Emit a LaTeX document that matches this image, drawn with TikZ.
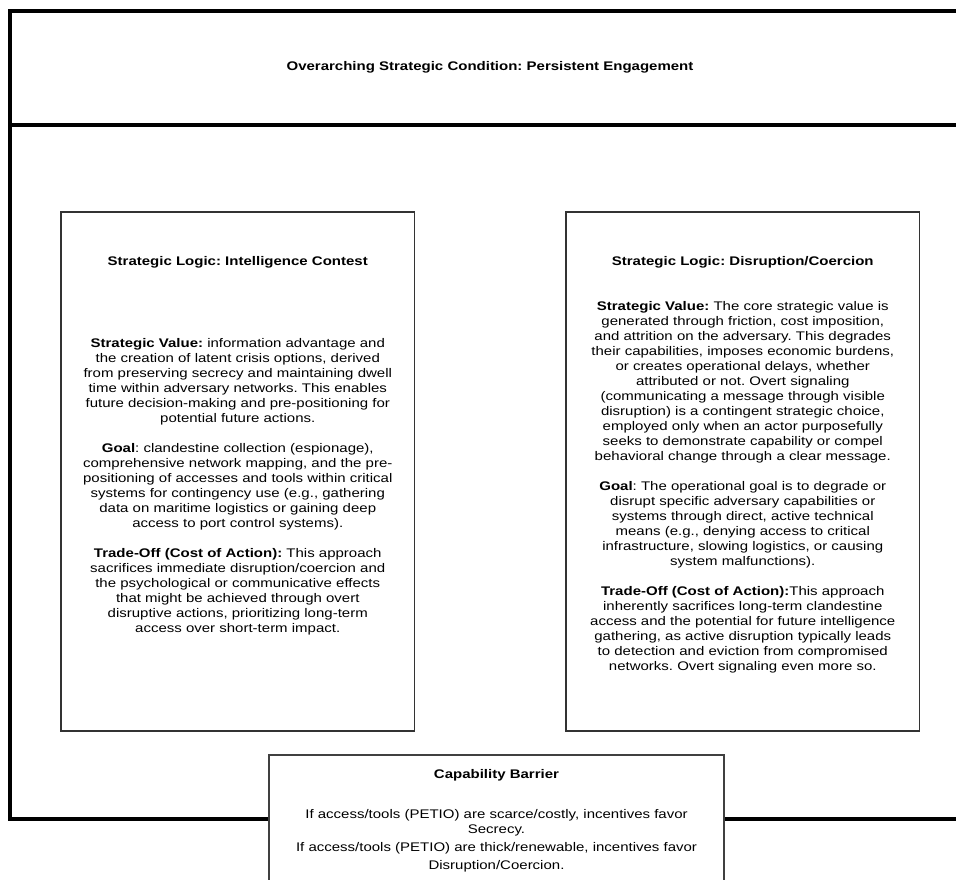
\documentclass[tikz,border=0pt]{standalone}
\usepackage{fontspec}
\setmainfont{Liberation Sans}[FakeStretch=1.2]
\frenchspacing
\begin{document}
\begin{tikzpicture}[x=1pt,y=-1pt,
  frame/.style={draw=black, line width=4pt, rectangle, inner sep=0pt, fill=white},
  panel/.style={draw=black!80, line width=1.3pt, rectangle, inner sep=0pt, fill=white,
    minimum width=353.5pt, minimum height=519pt},
  barrier/.style={draw=black!75, line width=1.3pt, rectangle, inner sep=0pt, fill=white,
    minimum width=455pt, minimum height=128pt},
  heading/.style={inner sep=0pt, font=\fontsize{12.5}{15}\selectfont\bfseries},
  bodytext/.style={inner sep=0pt, align=center, anchor=north, font=\fontsize{12.5}{15}\selectfont}]
\useasboundingbox (0,0) rectangle (956,879);
\clip (0,0) rectangle (956,879);

% outer frames: condition header and the container below it
\node[frame, minimum width=960pt, minimum height=695pt] (field) at (490,471.5) {};
\node[frame, minimum width=960pt, minimum height=114pt,
      font=\fontsize{12.5}{15}\selectfont\bfseries] (cond) at (490,67.5)
  {Overarching Strategic Condition: Persistent Engagement};

% intelligence contest panel
\node[panel] (ic) at (237.75,471.5) {};
\node[heading] (icTitle) at (237.75,262) {Strategic Logic: Intelligence Contest};
\node[bodytext] (icBody) at (237.75,338.5)
  {\textbf{Strategic Value:} information advantage and\\
   the creation of latent crisis options, derived\\
   from preserving secrecy and maintaining dwell\\
   time within adversary networks. This enables\\
   future decision-making and pre-positioning for\\
   potential future actions.\\[15pt]
   \textbf{Goal}: clandestine collection (espionage),\\
   comprehensive network mapping, and the pre-\\
   positioning of accesses and tools within critical\\
   systems for contingency use (e.g., gathering\\
   data on maritime logistics or gaining deep\\
   access to port control systems).\\[15pt]
   \textbf{Trade-Off (Cost of Action):} This approach\\
   sacrifices immediate disruption/coercion and\\
   the psychological or communicative effects\\
   that might be achieved through overt\\
   disruptive actions, prioritizing long-term\\
   access over short-term impact.};

% disruption / coercion panel
\node[panel] (dc) at (742.75,471.5) {};
\node[heading] (dcTitle) at (742.75,262) {Strategic Logic: Disruption/Coercion};
\node[bodytext] (dcBody) at (742.75,301.5)
  {\textbf{Strategic Value:} The core strategic value is\\
   generated through friction, cost imposition,\\
   and attrition on the adversary. This degrades\\
   their capabilities, imposes economic burdens,\\
   or creates operational delays, whether\\
   attributed or not. Overt signaling\\
   (communicating a message through visible\\
   disruption) is a contingent strategic choice,\\
   employed only when an actor purposefully\\
   seeks to demonstrate capability or compel\\
   behavioral change through a clear message.\\[15pt]
   \textbf{Goal}: The operational goal is to degrade or\\
   disrupt specific adversary capabilities or\\
   systems through direct, active technical\\
   means (e.g., denying access to critical\\
   infrastructure, slowing logistics, or causing\\
   system malfunctions).\\[15pt]
   \textbf{Trade-Off (Cost of Action):}This approach\\
   inherently sacrifices long-term clandestine\\
   access and the potential for future intelligence\\
   gathering, as active disruption typically leads\\
   to detection and eviction from compromised\\
   networks. Overt signaling even more so.};

% capability barrier straddling the container's lower edge
\node[barrier] (cap) at (496.5,819) {};
\node[heading] (capTitle) at (496.5,775) {Capability Barrier};
\node[bodytext] (capBody) at (496.5,809.5)
  {If access/tools (PETIO) are scarce/costly, incentives favor\\
   Secrecy.\\[3pt]
   If access/tools (PETIO) are thick/renewable, incentives favor\\[3pt]
   Disruption/Coercion.};
\end{tikzpicture}
\end{document}
